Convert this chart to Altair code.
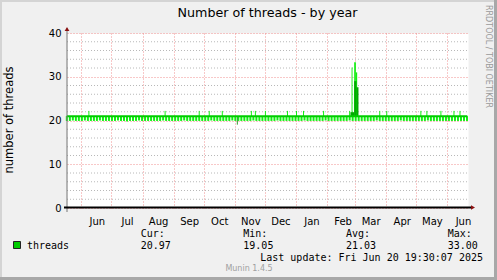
import altair as alt
import pandas as pd

W, H = 401, 175

title_text = "Number of threads - by year"
y_title_text = "number of threads"
side_text = "RRDTOOL / TOBI OETIKER"
series_name = "threads"
stat_labels = ["Cur:", "Min:", "Avg:", "Max:"]
stat_values = ["20.97", "19.05", "21.03", "33.00"]
last_update = "Last update: Fri Jun 20 19:30:07 2025"
footer = "Munin 1.4.5"

x_start = "2024-05-17T16:00:00"
x_end = "2025-06-21T12:00:00"
y_major = [0, 10, 20, 30, 40]
y_minor = [2, 4, 6, 8, 12, 14, 16, 18, 22, 24, 26, 28, 32, 34, 36, 38]

base_level = 21.0
line_dates = ["2024-05-17T12:00:00", "2025-02-24T00:00:00", "2025-03-04T00:00:00", "2025-06-20T19:30:00"]
line_vals = [21.0, 21.0, 21.0, 21.0]

tooth_start = "2024-05-17T12:00:00"
tooth_low = [
    19.9, 19.9, 20.0, 19.9, 19.9, 19.9, 20.0, 19.9, 19.9, 19.9,
    19.9, 20.0, 19.9, 19.9, 19.9, 19.9, 19.9, 20.0, 19.9, 19.9,
    19.8, 19.9, 19.9, 19.9, 20.0, 19.9, 19.9, 19.9, 19.9, 19.9,
    19.9, 19.9, 20.0, 19.9, 19.9, 19.9, 19.9, 19.9, 19.9, 20.0,
    19.9, 19.9, 19.9, 19.9, 19.9, 19.9, 19.9, 19.9, 20.0, 19.9,
    19.9, 19.9, 19.9, 19.9, 19.9, 20.0, 19.9, 19.9, 19.9, 19.9,
    19.9, 19.9, 20.0, 19.9, 19.9, 19.9, 19.9, 19.9, 19.9, 19.9,
    20.0, 19.9, 19.9, 19.9, 19.9, 19.9, 19.9, 19.9, 19.9, 20.0,
    19.9, 19.9, 19.9, 19.9, 19.9, 19.9, 20.0, 19.9, 19.9, 19.9,
    19.9, 19.9, 19.9, 19.9, 20.0, 19.9, 19.9, 19.9, 19.9, 19.9,
    19.9, 19.9, 19.9, 20.0, 19.9, 19.9, 19.9, 19.9, 19.9, 19.9,
    19.9, 20.0, 19.9, 19.9, 19.9, 19.9, 19.9, 19.9, 19.9, 19.9,
    20.0, 19.9, 19.9, 19.9, 19.9, 19.9, 19.9, 19.9, 19.9, 19.9,
    19.9, 19.9, 19.9, 19.9,
]

up_dates = ["2024-06-08", "2024-08-23", "2024-09-26", "2024-10-06", "2024-10-19",
            "2024-11-17", "2024-11-21", "2024-12-01", "2024-12-23", "2025-01-01",
            "2025-01-08", "2025-01-28", "2025-02-23", "2025-03-25", "2025-04-01",
            "2025-05-05", "2025-05-11", "2025-05-25", "2025-06-07", "2025-06-13"]
up_vals = [22.2, 22.2, 22.2, 22.2, 22.2, 22.2, 22.2, 22.2, 22.2, 22.2,
           22.2, 22.2, 22.2, 22.2, 22.2, 22.2, 22.2, 22.2, 22.2, 22.2]

dip_dates = ["2024-11-03T12:00:00"]
dip_vals = [19.05]

spike_light_start = ["2025-02-25T10:00:00", "2025-02-28T00:00:00", "2025-03-01T17:00:00"]
spike_light_end = ["2025-02-26T08:00:00", "2025-03-01T17:00:00", "2025-03-03T00:00:00"]
spike_light_top = [32.1, 33.3, 31.0]
spike_dark_start = ["2025-02-24T07:00:00", "2025-02-28T00:00:00", "2025-03-02T07:00:00"]
spike_dark_end = ["2025-02-28T00:00:00", "2025-03-02T07:00:00", "2025-03-04T07:00:00"]
spike_dark_top = [21.9, 29.0, 27.6]

DARK = "#00cc00"
LIGHT = "#11f011"
DARKFILL = "#00aa00"
MGRID = "#f09090"
GRID = "#b8b8b8"
ARROW = "#8b1010"

SANS = "DejaVu Sans"
MONO = "DejaVu Sans Mono"

X_SCALE = alt.Scale(domain=[x_start, x_end])
Y_SCALE = alt.Scale(domain=[0, 40], nice=False)
X_AXIS = alt.Axis(title=None, format="%b", tickCount={"interval": "month", "step": 1},
                  grid=True, gridColor=MGRID, gridDash=[1, 2], domain=False, ticks=False,
                  labelOffset=15.5, labelPadding=8, labelFontSize=10, labelFont=SANS,
                  labelColor="#000000", labelAlign="center", labelOverlap=False)
Y_AXIS = alt.Axis(title=None, values=y_major, grid=True, gridColor=MGRID, gridDash=[1, 2],
                  domain=False, ticks=False, labelPadding=6, labelFontSize=10,
                  labelFont=SANS, labelColor="#000000")


def X(field):
    return alt.X(field, type="temporal", scale=X_SCALE, axis=X_AXIS)


def Y(field):
    return alt.Y(field, type="quantitative", scale=Y_SCALE, axis=Y_AXIS)


one = pd.DataFrame({"k": [0]})

minor_df = pd.DataFrame({"v": y_minor})
minor = alt.Chart(minor_df).mark_rule(color=GRID, strokeDash=[1, 2], strokeWidth=1).encode(
    y=Y("v"), x=alt.value(0), x2=alt.value(W))

tooth_df = pd.DataFrame({
    "t": pd.date_range(tooth_start, periods=len(tooth_low), freq="3D"),
    "low": tooth_low,
    "top": [base_level] * len(tooth_low),
})
teeth = alt.Chart(tooth_df).mark_rule(color=LIGHT, strokeWidth=2).encode(
    x=X("t"), y=Y("low"), y2="top")

up_df = pd.DataFrame({"t": pd.to_datetime(up_dates) + pd.Timedelta(hours=12),
                      "v": up_vals, "b": [base_level] * len(up_vals)})
ups = alt.Chart(up_df).mark_rule(color=LIGHT, strokeWidth=1).encode(
    x=X("t"), y=Y("v"), y2="b")

dip_df = pd.DataFrame({"t": pd.to_datetime(dip_dates), "v": dip_vals,
                       "b": [base_level] * len(dip_vals)})
dips = alt.Chart(dip_df).mark_rule(color="#339933", strokeWidth=1).encode(
    x=X("t"), y=Y("v"), y2="b")

sl_df = pd.DataFrame({"s": pd.to_datetime(spike_light_start), "e": pd.to_datetime(spike_light_end),
                      "top": spike_light_top, "b": [base_level] * 3})
spike_light = alt.Chart(sl_df).mark_rect(color=LIGHT).encode(
    x=X("s"), x2="e", y=Y("top"), y2="b")

sd_df = pd.DataFrame({"s": pd.to_datetime(spike_dark_start), "e": pd.to_datetime(spike_dark_end),
                      "top": spike_dark_top, "b": [base_level] * 3})
spike_dark = alt.Chart(sd_df).mark_rect(color=DARKFILL).encode(
    x=X("s"), x2="e", y=Y("top"), y2="b")

line_df = pd.DataFrame({"t": pd.to_datetime(line_dates), "v": line_vals})
line = alt.Chart(line_df).mark_line(color=DARK, strokeWidth=2).encode(x=X("t"), y=Y("v"))

# axis lines and arrows
y_axis_line = alt.Chart(one).mark_rule(color="#777777", strokeWidth=1).encode(
    x=alt.value(0), y=alt.value(-5), y2=alt.value(H + 4))
x_axis_line = alt.Chart(one).mark_rule(color="#000000", strokeWidth=2).encode(
    x=alt.value(-3), x2=alt.value(W + 3), y=alt.value(H - 0.5))
arrow_up = alt.Chart(one).mark_point(shape="triangle-up", filled=True, color=ARROW, size=22, opacity=1).encode(
    x=alt.value(0), y=alt.value(-4))
arrow_right = alt.Chart(one).mark_point(shape="triangle-right", filled=True, color=ARROW, size=22, opacity=1).encode(
    x=alt.value(W + 5), y=alt.value(H - 0.5))


def txt(s, x, y, font=SANS, size=10, color="#000000", align="left", angle=0, baseline="middle"):
    props = dict(font=font, fontSize=size, color=color, align=align, baseline=baseline)
    if angle:
        props["angle"] = angle
    return alt.Chart(one).mark_text(**props).encode(
        x=alt.value(x), y=alt.value(y), text=alt.value(s))


texts = [
    txt(title_text, 200.5, -20, size=12.7, align="center"),
    txt(y_title_text, -57, 87, size=11.5, align="center", angle=270),
    txt(side_text, 421, -28, size=8, color="#9a9a9a", align="left", angle=90),
    txt(series_name, -40, 212.5, font=MONO, size=10),
    txt(last_update, 416, 224.5, font=MONO, size=10, align="right"),
    txt(footer, 182, 236, size=8, color="#a0a0a0", align="center"),
]
stat_x = [73.7, 176.3, 279, 380.7]
for lab, val, sx in zip(stat_labels, stat_values, stat_x):
    texts.append(txt(lab, sx, 201, font=MONO, size=10))
    texts.append(txt(val, sx, 212.5, font=MONO, size=10))

legend_box = alt.Chart(one).mark_rect(color=DARK, stroke="#222222", strokeWidth=1).encode(
    x=alt.value(-53.5), x2=alt.value(-46.5), y=alt.value(208.5), y2=alt.value(215.5))

# outer frame
frame_left = alt.Chart(one).mark_rect(color="#d4d4d4").encode(
    x=alt.value(-67), x2=alt.value(-65), y=alt.value(-33), y2=alt.value(247))
frame_top = alt.Chart(one).mark_rect(color="#d4d4d4").encode(
    x=alt.value(-67), x2=alt.value(430), y=alt.value(-33), y2=alt.value(-31))
frame_right = alt.Chart(one).mark_rect(color="#a8a8a8").encode(
    x=alt.value(427), x2=alt.value(430), y=alt.value(-33), y2=alt.value(247))
frame_bottom = alt.Chart(one).mark_rect(color="#a8a8a8").encode(
    x=alt.value(-67), x2=alt.value(430), y=alt.value(244), y2=alt.value(247))

chart = alt.layer(
    minor, teeth, ups, dips, spike_light, spike_dark, line,
    y_axis_line, x_axis_line, arrow_up, arrow_right, legend_box,
    *texts, frame_left, frame_top, frame_right, frame_bottom,
).properties(
    width=W, height=H,
    autosize=alt.AutoSizeParams(type="none"),
    padding={"left": 67, "top": 33, "right": 29, "bottom": 72},
    background="#f0f0f0",
).configure_view(fill="white", stroke="transparent")

chart.save("out.html", embed_options={"renderer": "svg", "actions": False})
